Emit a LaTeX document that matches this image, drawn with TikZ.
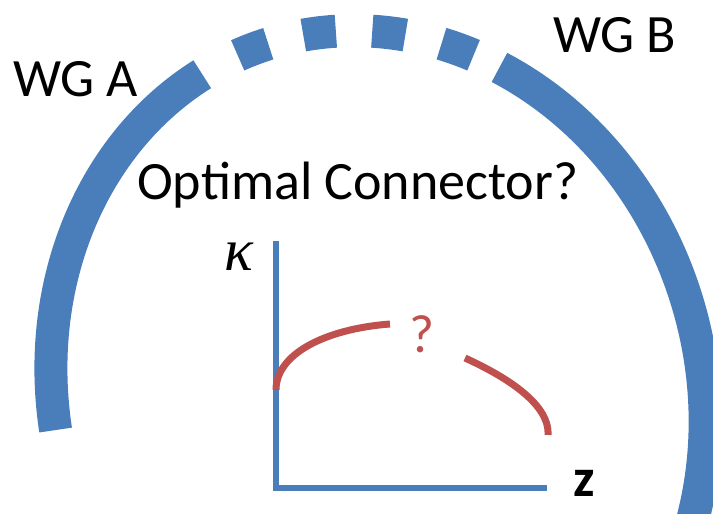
\documentclass[tikz,border=0pt]{standalone}
\usepackage{fontspec}
\setmainfont{Carlito}
\newfontfamily\symfont{Liberation Serif}
\definecolor{guide}{HTML}{4A7EBB}
\definecolor{mode} {HTML}{C0504D}

\begin{document}
\begin{tikzpicture}[x=1pt, y=1pt,
    every node/.style={inner sep=0pt, font=\fontsize{54}{60}\selectfont},
    ring/.style={guide, line width=33pt},
    axis/.style={guide, line width=6pt},
    curve/.style={mode, line width=7pt}]
  \useasboundingbox (0,0) rectangle (713,514);
  \clip (0,0) rectangle (713,514);
  \begin{scope}[shift={(378,119)}, rotate=17]
    \draw[ring] (170.5:323 and 368) arc[start angle=170.5, end angle=103.3, x radius=323, y radius=368];
    \foreach \t in {93.3, 81.1, 68.9, 56.7}
      \draw[ring] (\t+2.9:323 and 368) arc[start angle=\t+2.9, end angle=\t-2.9, x radius=323, y radius=368];
    \draw[ring] (49:323 and 368) arc[start angle=49, end angle=-40, x radius=323, y radius=368];
  \end{scope}
  \node[anchor=base west] (wga) at (13,417) {WG A};
  \node[anchor=base west] (wgb) at (553,461) {WG B};
  \node[anchor=base west] (title) at (137,314) {Optimal Connector?};
  \coordinate (origin) at (276,26);
  \coordinate (ytip) at (276,273);
  \coordinate (xtip) at (547,26);
  \draw[axis] (ytip) -- (origin) -- (xtip);
  \node[font=\fontsize{60}{60}\selectfont\symfont\itshape] (kappa) at (239,257) {κ};
  \node[anchor=base west, font=\fontsize{54}{60}\selectfont\bfseries] (zlabel) at (573,17) {z};
  \node[anchor=base west, text=mode] (gap) at (409,161) {?};
  \coordinate (rise) at (276,124);
  \coordinate (top) at (390,190);
  \coordinate (fall) at (465,156);
  \coordinate (tail) at (548,79);
  \draw[curve] (rise) .. controls (276,160) and (325,185) .. (top);
  \draw[curve] (fall) .. controls (500,140) and (550,112) .. (tail);
\end{tikzpicture}
\end{document}
